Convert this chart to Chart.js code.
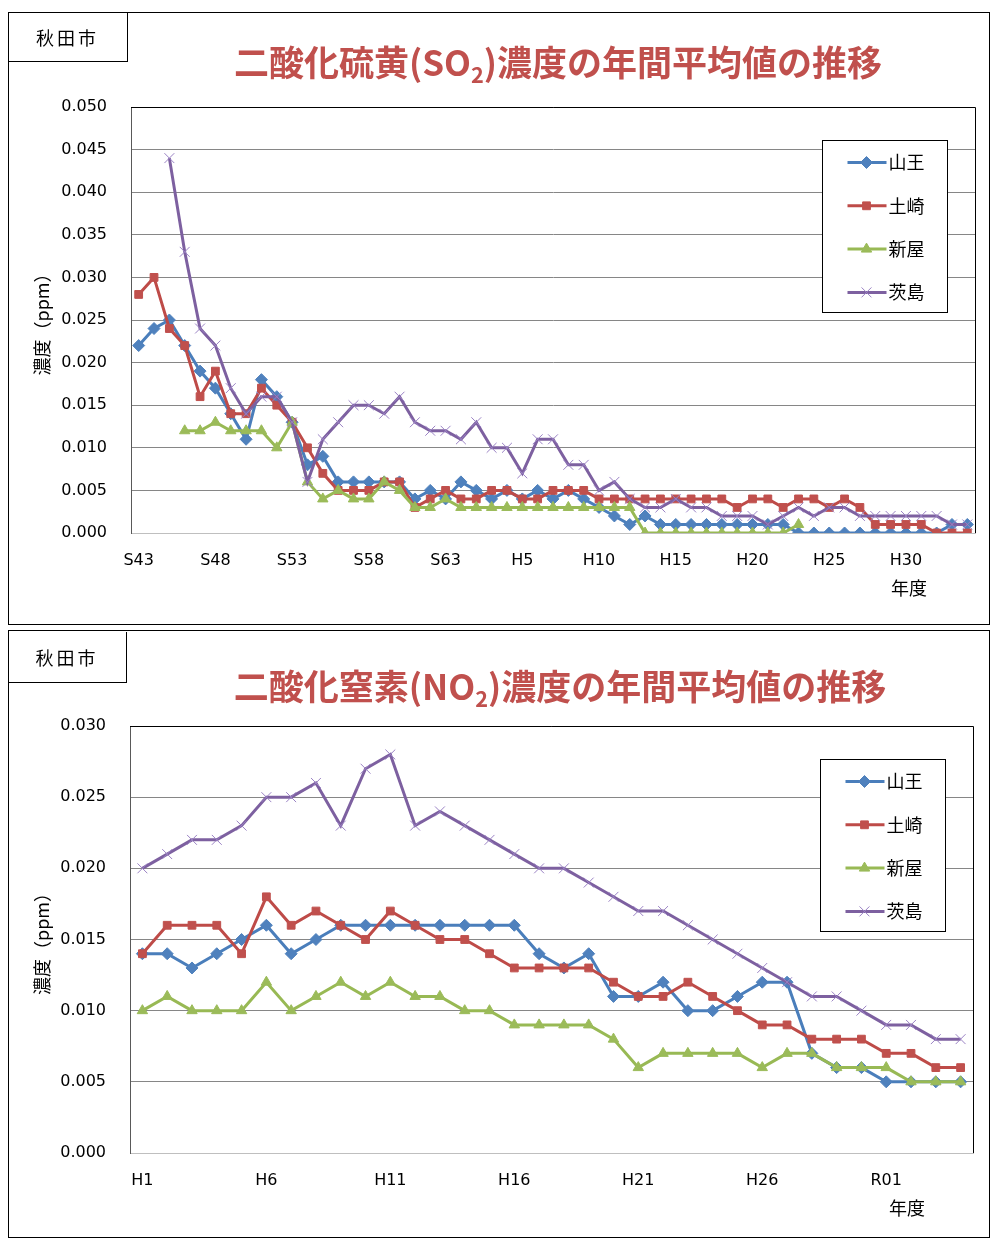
<!DOCTYPE html>
<html lang="ja">
<head>
<meta charset="utf-8">
<title>二酸化硫黄・二酸化窒素濃度の年間平均値の推移</title>
<script src="https://cdn.jsdelivr.net/npm/chart.js@4.4.1/dist/chart.umd.min.js"></script>
<style>
body { margin: 0; background: #fff; width: 992px; height: 1238px; position: relative; overflow: hidden; font-family: 'Noto Sans CJK JP', sans-serif; }
.panel { position: absolute; left: 8px; width: 982px; outline: 1px solid #000; outline-offset: -1px; }
.panel canvas { position: absolute; left: 0; top: 0; }
.city { position: absolute; left: 0; top: 0; width: 120px; height: 50px; border-right: 1px solid #000; border-bottom: 1px solid #000; box-sizing: border-box; font-size: 18px; line-height: 50px; text-align: center; letter-spacing: 3px; z-index: 2; }
.title { position: absolute; transform: translateX(-50%); white-space: nowrap; color: #c0504d; font-weight: bold; font-size: 35px; line-height: 1; z-index: 2; }
.title sub { font-size: 0.62em; vertical-align: -0.3em; line-height: 0; }
</style>
</head>
<body>
<div class="panel" style="top:12px; height:613px;">
  <canvas id="so2Chart" width="982" height="613"></canvas>
  <div class="city">秋田市</div>
  <div class="title" style="left:550px; top:31px;">二酸化硫黄(SO<sub>2</sub>)濃度の年間平均値の推移</div>
</div>
<div class="panel" style="top:630px; height:608px;">
  <canvas id="no2Chart" width="982" height="608"></canvas>
  <div class="city" style="width:119px; height:51px; top:2px;">秋田市</div>
  <div class="title" style="left:552px; top:37px;">二酸化窒素(NO<sub>2</sub>)濃度の年間平均値の推移</div>
</div>
<script>
// --- SO2 (S43 - R04) ---
const so2Years = ['S43','S44','S45','S46','S47','S48','S49','S50','S51','S52',
  'S53','S54','S55','S56','S57','S58','S59','S60','S61','S62',
  'S63','H1','H2','H3','H4','H5','H6','H7','H8','H9',
  'H10','H11','H12','H13','H14','H15','H16','H17','H18','H19',
  'H20','H21','H22','H23','H24','H25','H26','H27','H28','H29',
  'H30','R01','R02','R03','R04'];
const so2Ticks = ['S43','S48','S53','S58','S63','H5','H10','H15','H20','H25','H30'];

const so2Sanno = [0.022,0.024,0.025,0.022,0.019,0.017,0.014,0.011,0.018,0.016,
  0.013,0.008,0.009,0.006,0.006,0.006,0.006,0.006,0.004,0.005,
  0.004,0.006,0.005,0.004,0.005,0.004,0.005,0.004,0.005,0.004,
  0.003,0.002,0.001,0.002,0.001,0.001,0.001,0.001,0.001,0.001,
  0.001,0.001,0.001,0.000,0.000,0.000,0.000,0.000,0.000,0.000,
  0.000,0.000,0.000,0.001,0.001];
const so2Tsuchizaki = [0.028,0.030,0.024,0.022,0.016,0.019,0.014,0.014,0.017,0.015,
  0.013,0.010,0.007,0.005,0.005,0.005,0.006,0.006,0.003,0.004,
  0.005,0.004,0.004,0.005,0.005,0.004,0.004,0.005,0.005,0.005,
  0.004,0.004,0.004,0.004,0.004,0.004,0.004,0.004,0.004,0.003,
  0.004,0.004,0.003,0.004,0.004,0.003,0.004,0.003,0.001,0.001,
  0.001,0.001,0.000,0.000,0.000];
const so2Araya = [null,null,null,0.012,0.012,0.013,0.012,0.012,0.012,0.010,
  0.013,0.006,0.004,0.005,0.004,0.004,0.006,0.005,0.003,0.003,
  0.004,0.003,0.003,0.003,0.003,0.003,0.003,0.003,0.003,0.003,
  0.003,0.003,0.003,0.000,0.000,0.000,0.000,0.000,0.000,0.000,
  0.000,0.000,0.000,0.001,null,null,null,null,null,null,
  null,null,null,null,null];
const so2Ibarajima = [null,null,0.044,0.033,0.024,0.022,0.017,0.014,0.016,0.016,
  0.013,0.006,0.011,0.013,0.015,0.015,0.014,0.016,0.013,0.012,
  0.012,0.011,0.013,0.010,0.010,0.007,0.011,0.011,0.008,0.008,
  0.005,0.006,0.004,0.003,0.003,0.004,0.003,0.003,0.002,0.002,
  0.002,0.001,0.002,0.003,0.002,0.003,0.003,0.002,0.002,0.002,
  0.002,0.002,0.002,0.001,0.001];

// --- NO2 (H1 - R04) ---
const no2Years = ['H1','H2','H3','H4','H5','H6','H7','H8','H9','H10',
  'H11','H12','H13','H14','H15','H16','H17','H18','H19','H20',
  'H21','H22','H23','H24','H25','H26','H27','H28','H29','H30',
  'R01','R02','R03','R04'];
const no2Ticks = ['H1','H6','H11','H16','H21','H26','R01'];

const no2Sanno = [0.014,0.014,0.013,0.014,0.015,0.016,0.014,0.015,0.016,0.016,
  0.016,0.016,0.016,0.016,0.016,0.016,0.014,0.013,0.014,0.011,
  0.011,0.012,0.010,0.010,0.011,0.012,0.012,0.007,0.006,0.006,
  0.005,0.005,0.005,0.005];
const no2Tsuchizaki = [0.014,0.016,0.016,0.016,0.014,0.018,0.016,0.017,0.016,0.015,
  0.017,0.016,0.015,0.015,0.014,0.013,0.013,0.013,0.013,0.012,
  0.011,0.011,0.012,0.011,0.010,0.009,0.009,0.008,0.008,0.008,
  0.007,0.007,0.006,0.006];
const no2Araya = [0.010,0.011,0.010,0.010,0.010,0.012,0.010,0.011,0.012,0.011,
  0.012,0.011,0.011,0.010,0.010,0.009,0.009,0.009,0.009,0.008,
  0.006,0.007,0.007,0.007,0.007,0.006,0.007,0.007,0.006,0.006,
  0.006,0.005,0.005,0.005];
const no2Ibarajima = [0.020,0.021,0.022,0.022,0.023,0.025,0.025,0.026,0.023,0.027,
  0.028,0.023,0.024,0.023,0.022,0.021,0.020,0.020,0.019,0.018,
  0.017,0.017,0.016,0.015,0.014,0.013,0.012,0.011,0.011,0.010,
  0.009,0.009,0.008,0.008];

const stations = ['山王','土崎','新屋','茨島'];
const lineColors = ['#4A7EBB','#BE4B48','#98B954','#7D60A0'];
const markerColors = ['#4F81BD','#C0504D','#9BBB59','#8064A2'];
const markerStyles = ['rectRot','rect','triangle','crossRot'];
const markerSizes = [6, 5.5, 6, 7];

const cjk = "'Noto Sans CJK JP', sans-serif";
const num = "'DejaVu Sans', sans-serif";

function makeDatasets(series) {
  return series.map(function(vals, i) {
    return {
      label: stations[i],
      data: vals,
      borderColor: lineColors[i],
      backgroundColor: markerColors[i],
      borderWidth: 3,
      tension: 0,
      pointStyle: markerStyles[i],
      pointRadius: markerSizes[i],
      pointBackgroundColor: markerColors[i],
      pointBorderColor: i === 3 ? '#9a82c4' : markerColors[i],
      pointBorderWidth: 1,
      order: 4 - i
    };
  });
}

// black frame on top / right of plot area
const plotFrame = {
  id: 'plotFrame',
  afterDatasetsDraw(chart) {
    const ctx = chart.ctx, a = chart.chartArea;
    ctx.save();
    ctx.strokeStyle = '#000';
    ctx.lineWidth = 1;
    ctx.beginPath();
    ctx.moveTo(a.left, Math.round(a.top) + 0.5);
    ctx.lineTo(Math.round(a.right) + 0.5, Math.round(a.top) + 0.5);
    ctx.lineTo(Math.round(a.right) + 0.5, a.bottom);
    ctx.stroke();
    ctx.restore();
  }
};

// "年度" under the category axis
const yearTitle = {
  id: 'yearTitle',
  afterDraw(chart) {
    const ctx = chart.ctx, a = chart.chartArea;
    ctx.save();
    ctx.font = '18px ' + cjk;
    ctx.fillStyle = '#000';
    ctx.textAlign = 'center';
    ctx.textBaseline = 'middle';
    ctx.fillText('年度', a.right - 66, a.bottom + 55);
    ctx.restore();
  }
};

// boxed legend inside the plot area
const boxLegend = {
  id: 'boxLegend',
  afterDraw(chart) {
    const ctx = chart.ctx, a = chart.chartArea;
    const x0 = Math.round(a.right - 153) + 0.5, y0 = Math.round(a.top + 33) + 0.5;
    const w = 125, h = 172;
    ctx.save();
    ctx.fillStyle = '#fff';
    ctx.fillRect(x0, y0, w, h);
    ctx.strokeStyle = '#000';
    ctx.lineWidth = 1;
    ctx.strokeRect(x0, y0, w, h);
    chart.data.datasets.forEach(function(ds, i) {
      const y = y0 + 22 + i * 43.3;
      ctx.strokeStyle = ds.borderColor;
      ctx.lineWidth = 3;
      ctx.beginPath();
      ctx.moveTo(x0 + 25, y);
      ctx.lineTo(x0 + 64, y);
      ctx.stroke();
      ctx.fillStyle = ds.pointBackgroundColor;
      ctx.strokeStyle = ds.pointBorderColor;
      ctx.lineWidth = 1;
      Chart.helpers.drawPoint(ctx, {pointStyle: ds.pointStyle, radius: ds.pointRadius, rotation: 0, borderWidth: 1}, x0 + 44, y);
      ctx.fillStyle = '#000';
      ctx.font = '18px ' + cjk;
      ctx.textAlign = 'left';
      ctx.textBaseline = 'middle';
      ctx.fillText(ds.label, x0 + 66, y);
    });
    ctx.restore();
  }
};

function makeChart(id, labels, shown, series, yMax, area) {
  return new Chart(document.getElementById(id), {
    type: 'line',
    data: { labels: labels, datasets: makeDatasets(series) },
    options: {
      responsive: false,
      animation: false,
      events: [],
      layout: { padding: { top: area.top, right: area.right, left: 0, bottom: 0 } },
      plugins: { legend: { display: false }, tooltip: { enabled: false } },
      scales: {
        x: {
          offset: true,
          grid: { display: false, drawTicks: false },
          border: { color: '#bfbfbf' },
          ticks: {
            autoSkip: false, maxRotation: 0, padding: 18, color: '#000',
            font: { family: num, size: 16 },
            callback: function(v, i) { return shown.indexOf(labels[i]) >= 0 ? labels[i] : ''; }
          },
          afterFit: function(s) { s.height = area.xh; }
        },
        y: {
          min: 0, max: yMax,
          grid: { color: function(c) { return c.tick && c.tick.value === 0 ? '#bfbfbf' : '#868686'; }, drawTicks: false },
          border: { color: '#595959' },
          ticks: {
            stepSize: 0.005, padding: 24, color: '#000',
            font: { family: num, size: 16 },
            callback: function(v) { return v.toFixed(3); }
          },
          title: { display: true, text: '濃度（ppm）', color: '#000', font: { family: cjk, size: 18 }, padding: { top: 23, bottom: 0 } },
          afterFit: function(s) { s.width = area.yw; }
        }
      }
    },
    plugins: [plotFrame, yearTitle, boxLegend]
  });
}

const so2Chart = makeChart('so2Chart', so2Years, so2Ticks,
  [so2Sanno, so2Tsuchizaki, so2Araya, so2Ibarajima], 0.05,
  { top: 95, right: 15, xh: 92, yw: 123 });

const no2Chart = makeChart('no2Chart', no2Years, no2Ticks,
  [no2Sanno, no2Tsuchizaki, no2Araya, no2Ibarajima], 0.03,
  { top: 96, right: 17, xh: 85, yw: 122 });
</script>
</body>
</html>
